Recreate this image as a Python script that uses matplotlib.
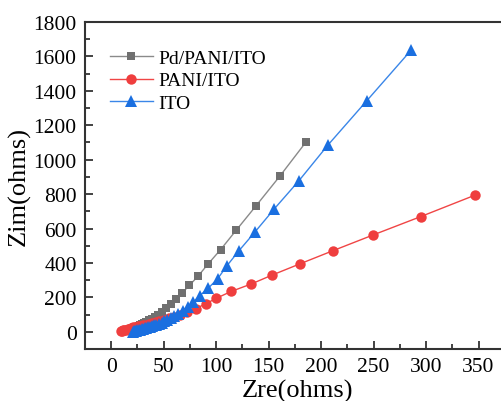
import matplotlib
matplotlib.use("Agg")
import matplotlib.pyplot as plt
from matplotlib.ticker import MultipleLocator

plt.rcParams['font.family'] = ['Liberation Serif', 'DejaVu Serif']

# Nyquist data (Zre, Zim in ohms) for the three electrodes
pd_zre = [185.9, 160.5, 137.6, 119.2, 104.3, 92.0, 82.7, 74.5, 67.5, 61.5, 56.5, 52.0,
          48.0, 44.5, 41.3, 38.5, 35.9, 33.6, 31.5, 29.5, 27.7, 26.0, 24.4, 22.9,
          21.5, 20.2, 19.0, 17.8]
pd_zim = [1105, 903, 729, 591, 478, 392, 323, 270, 225, 188, 160, 136,
          116, 100, 87, 76, 66, 58, 51, 45, 39, 34, 29, 25,
          21, 17, 14, 11]

pani_zre = [347.1, 294.8, 249.3, 211.2, 179.5, 153.5, 133.5, 114.5, 100.2, 89.9, 80.5, 72.5,
            65.7, 59.8, 54.6, 50.0, 45.9, 42.2, 38.8, 35.7, 32.8, 30.1, 27.6, 25.3,
            23.1, 21.1, 19.2, 17.4, 15.7, 14.1, 12.6, 11.2, 9.9, 9.0]
pani_zim = [795, 669, 562, 471, 394, 330, 278, 235, 195, 162, 135, 113,
            98, 87, 78, 70, 63, 57, 51, 46, 42, 38, 34, 31,
            28, 25, 22, 19, 16, 13, 10, 8, 6, 4]

ito_zre = [286.0, 243.6, 206.5, 178.9, 155.5, 136.7, 121.7, 110.3, 101.4, 92.2, 84.3, 78.0,
           72.8, 68.2, 64.0, 60.2, 56.7, 53.5, 50.6, 47.9, 45.4, 43.1, 41.0, 39.0,
           37.1, 35.3, 33.6, 32.0, 30.5, 29.0, 27.6, 26.3, 25.0, 23.8, 22.6, 21.5, 20.4]
ito_zim = [1638, 1343, 1085, 878, 715, 578, 471, 384, 308, 252, 210, 172,
           145, 122, 104, 90, 78, 68, 60, 53, 47, 42, 37, 33,
           29, 26, 23, 20, 17, 15, 13, 11, 9, 7, 5, 3, 1]

labels = ['Pd/PANI/ITO', 'PANI/ITO', 'ITO']

fig = plt.figure(figsize=(5.01, 4.02), dpi=100)
ax = fig.add_axes([85 / 501, 52 / 402, 425 / 501, 327 / 402])

ax.plot(pd_zre, pd_zim, '-', color='#8a8a8a', lw=1.0, marker='s', ms=6.3,
        mfc='#707070', mec='#707070', mew=0, label=labels[0])
ax.plot(pani_zre, pani_zim, '-', color='#f04545', lw=1.0, marker='o', ms=7.5,
        mfc='#ef3e3e', mec='#ef3e3e', mew=0, label=labels[1])
ax.plot(ito_zre, ito_zim, '-', color='#3a86e8', lw=1.0, marker='^', ms=9,
        mfc='#1a6fe0', mec='#1a6fe0', mew=0, label=labels[2])

ax.set_xlim(-25, 380)
ax.set_ylim(-100, 1800)
ax.xaxis.set_major_locator(MultipleLocator(50))
ax.xaxis.set_minor_locator(MultipleLocator(25))
ax.yaxis.set_major_locator(MultipleLocator(200))
ax.yaxis.set_minor_locator(MultipleLocator(100))
ax.tick_params(which='both', direction='in', top=False, right=False,
               labelsize=15.5, width=1.2, colors='#222222', labelcolor='black')
ax.tick_params(which='major', length=6, pad=6)
ax.tick_params(which='minor', length=3.5)
for s in ax.spines.values():
    s.set_linewidth(1.5)
    s.set_color('#333333')

ax.set_xlabel('Zre(ohms)', fontsize=19, labelpad=1.5)
ax.set_ylabel('Zim(ohms)', fontsize=19, labelpad=2)

ax.legend(loc='upper left', bbox_to_anchor=(0.04, 0.94), frameon=False,
          fontsize=14, handlelength=2.2, handletextpad=0.3, labelspacing=0.25,
          borderaxespad=0)

plt.savefig('out.png', dpi=100)
